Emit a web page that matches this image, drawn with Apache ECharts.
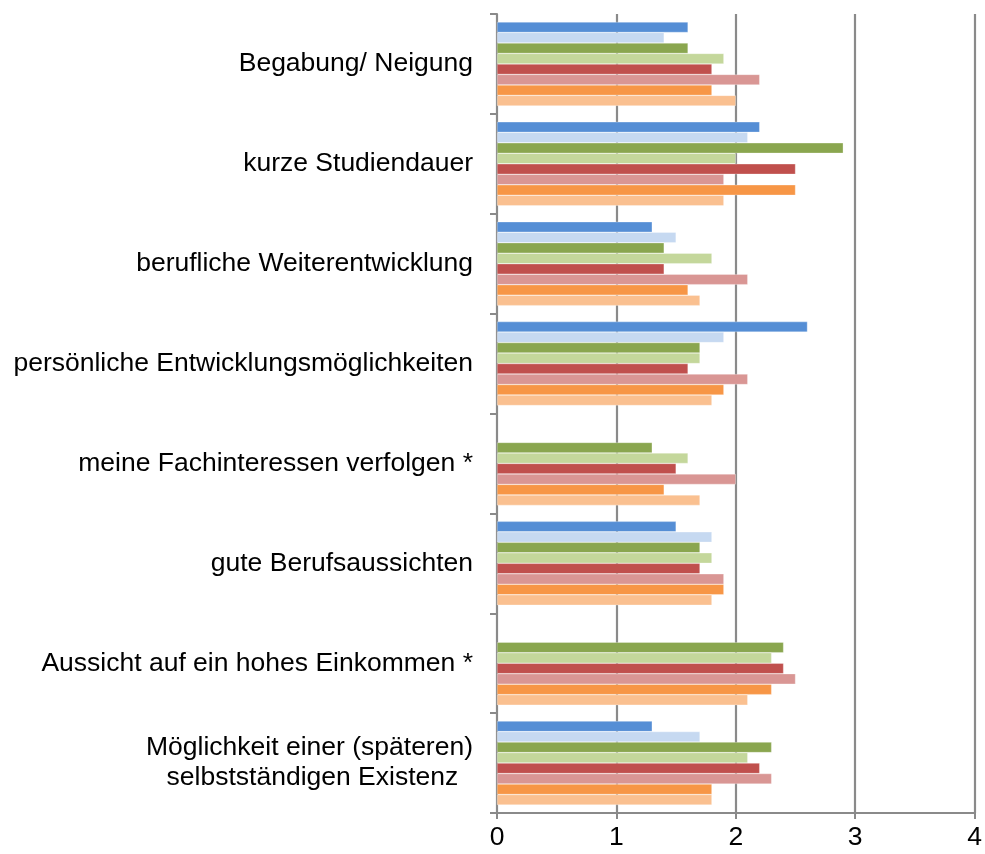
<!DOCTYPE html>
<html>
<head>
<meta charset="utf-8">
<script src="https://cdn.jsdelivr.net/npm/echarts@6/dist/echarts.min.js"></script>
<style>html,body{margin:0;padding:0;background:#fff}#c{width:985px;height:854px}</style>
</head>
<body>
<div id="c"></div>
<script>
const categories = [
  "Begabung/ Neigung",
  "kurze Studiendauer",
  "berufliche Weiterentwicklung",
  "persönliche Entwicklungsmöglichkeiten",
  "meine Fachinteressen verfolgen *",
  "gute Berufsaussichten",
  "Aussicht auf ein hohes Einkommen *",
  "Möglichkeit einer (späteren)\nselbstständigen Existenz  "
];
const s1 = [1.6, 2.2, 1.3, 2.6, null, 1.5, null, 1.3];
const s2 = [1.4, 2.1, 1.5, 1.9, null, 1.8, null, 1.7];
const s3 = [1.6, 2.9, 1.4, 1.7, 1.3, 1.7, 2.4, 2.3];
const s4 = [1.9, 2.0, 1.8, 1.7, 1.6, 1.8, 2.3, 2.1];
const s5 = [1.8, 2.5, 1.4, 1.6, 1.5, 1.7, 2.4, 2.2];
const s6 = [2.2, 1.9, 2.1, 2.1, 2.0, 1.9, 2.5, 2.3];
const s7 = [1.8, 2.5, 1.6, 1.9, 1.4, 1.9, 2.3, 1.8];
const s8 = [2.0, 1.9, 1.7, 1.8, 1.7, 1.8, 2.1, 1.8];
const seriesData = [s1, s2, s3, s4, s5, s6, s7, s8];
const colors = ["#558ED5", "#C6D9F1", "#8AA64F", "#C4D79B", "#C0504D", "#D99694", "#F79646", "#FAC090"];
const xTicks = [0, 1, 2, 3, 4];

const chart = echarts.init(document.getElementById('c'));
chart.setOption({
  animation: false,
  grid: {left: 497, right: 8, top: 14, bottom: 41, containLabel: false},
  xAxis: {
    type: 'value', min: xTicks[0], max: xTicks[xTicks.length - 1], interval: 1,
    axisLine: {show: true, lineStyle: {color: '#8a8a8a', width: 2}},
    axisTick: {show: true, length: 6, lineStyle: {color: '#8a8a8a', width: 2}},
    splitLine: {show: true, lineStyle: {color: '#8a8a8a', width: 2.2}},
    axisLabel: {fontFamily: 'Liberation Sans, Arial', fontSize: 26.5, color: '#000', margin: 11}
  },
  yAxis: {
    type: 'category', data: categories, inverse: true,
    axisLine: {show: true, lineStyle: {color: '#8a8a8a', width: 2}},
    axisTick: {show: true, length: 7, lineStyle: {color: '#8a8a8a', width: 2}},
    axisLabel: {fontFamily: 'Liberation Sans, Arial', fontSize: 26.5, color: '#000', margin: 24, lineHeight: 30}
  },
  series: seriesData.map((d, i) => ({
    type: 'bar', data: d, barGap: '0%', barCategoryGap: '16%',
    itemStyle: {color: colors[i], borderColor: 'rgba(255,255,255,0.6)', borderWidth: 0.5},
    z: 3
  }))
});
</script>
</body>
</html>
